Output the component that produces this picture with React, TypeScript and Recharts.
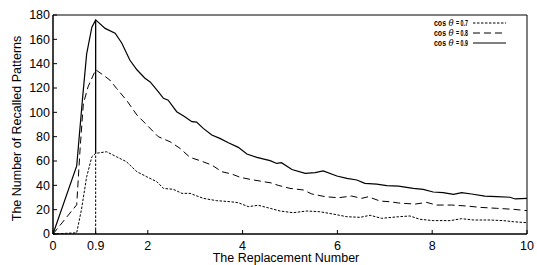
import { LineChart, Line, XAxis, YAxis, ReferenceLine, ReferenceArea } from "recharts";

// cos θ = 0.9 (solid)
const cos09X = [0, 0.5, 0.62, 0.71, 0.82, 0.9, 1.1, 1.31, 1.45, 1.62, 1.77, 1.94, 2.05, 2.22, 2.33, 2.43, 2.61, 2.78, 2.93, 3.03, 3.17, 3.35, 3.52, 3.7, 3.91, 4.09, 4.3, 4.58, 4.72, 4.82, 5.04, 5.32, 5.53, 5.7, 5.99, 6.2, 6.41, 6.58, 6.83, 7.04, 7.29, 7.6, 7.81, 8.02, 8.23, 8.45, 8.62, 8.83, 9.11, 9.36, 9.64, 9.75, 10];
const cos09Y = [0, 56, 110, 148, 170, 176, 169, 165, 157, 143, 135, 128, 125, 117, 111.5, 110, 100.5, 96.4, 92.3, 92, 86.8, 81.3, 78.6, 75, 71.2, 65.7, 63, 60.3, 58, 58.6, 53, 49.9, 50.4, 51.8, 47.7, 45.7, 44.4, 41.6, 41, 39.7, 39.4, 37.5, 36.7, 34.5, 34, 32.6, 34, 32.9, 31.2, 30.7, 30.2, 28.8, 29.3];

// cos θ = 0.8 (dashed)
const cos08X = [0, 0.5, 0.57, 0.64, 0.74, 0.9, 1.06, 1.2, 1.34, 1.55, 1.77, 1.98, 2.12, 2.22, 2.47, 2.68, 2.89, 3.1, 3.35, 3.56, 3.77, 3.95, 4.16, 4.44, 4.6, 4.75, 5.0, 5.28, 5.46, 5.74, 6.02, 6.3, 6.51, 6.65, 6.9, 7.11, 7.29, 7.39, 7.64, 7.88, 8.09, 8.41, 8.73, 9.01, 9.36, 9.71, 10];
const cos08Y = [0, 24, 69, 107, 121, 135, 130.6, 126.5, 119.7, 110, 97.8, 89.6, 84, 80, 75.8, 70.4, 63, 60.3, 56.7, 51.2, 49.3, 46.6, 44.9, 43, 42, 40, 37.5, 36.2, 32.9, 30.7, 29.8, 31.2, 29.3, 30.6, 27.1, 26.5, 25.5, 25.2, 24.6, 26, 23.8, 23.8, 23, 21.9, 21.1, 20.3, 19.2];

// cos θ = 0.7 (dotted)
const cos07X = [0, 0.5, 0.6, 0.71, 0.82, 0.9, 1.13, 1.34, 1.55, 1.77, 1.98, 2.19, 2.33, 2.54, 2.72, 2.89, 3.17, 3.45, 3.73, 3.91, 4.12, 4.33, 4.58, 4.79, 5.07, 5.35, 5.63, 5.91, 6.2, 6.48, 6.69, 6.93, 7.29, 7.53, 7.74, 8.02, 8.38, 8.62, 8.87, 9.22, 9.5, 9.71, 10];
const cos07Y = [0, 1, 20, 47, 63.5, 66.3, 67.6, 63.5, 59.4, 51.2, 47, 43, 37.5, 36.7, 33.4, 33.4, 29.3, 27.4, 26.6, 25.7, 22.5, 23.6, 21.1, 18.9, 17.5, 18.9, 18.3, 16.4, 14.2, 13.7, 15.4, 12.9, 14.2, 14.8, 12.1, 11, 11, 12.6, 11.5, 11.5, 11, 10.1, 9.3];

const xTicks = [0, 0.9, 2, 4, 6, 8, 10];
const yTicks = [0, 20, 40, 60, 80, 100, 120, 140, 160, 180];

// marker at 0.9: solid from the 0.7 peak to the 0.9 peak, dotted down to the axis
const markerX = 0.9;
const markerLow = 66;
const markerHigh = 176;

const legendLabels = ["0.7", "0.8", "0.9"];
const legendDash = ["2.5 1.5", "7 4", undefined];

const FONT = "'Liberation Sans', Arial, Helvetica, sans-serif";

const zip = (xs: number[], ys: number[]) => xs.map((x, i) => ({ x, y: ys[i] }));

function Legend() {
  const txt = { fontFamily: FONT, fontSize: 8.5, fontWeight: "bold" as const, fill: "#000" };
  return (
    <svg width={537} height={265} style={{ position: "absolute", left: 0, top: 0, pointerEvents: "none" }}>
      {legendLabels.map((lab, i) => {
        const by = 26 + i * 10;
        return (
          <g key={lab}>
            <text transform={`translate(434 ${by}) scale(0.82 1)`} {...txt}>cos</text>
            <text x={448.5} y={by} fontFamily="'DejaVu Serif', serif" fontStyle="italic" fontSize={8.5} fill="#000">θ</text>
            <text transform={`translate(456 ${by}) scale(0.62 1)`} {...txt}>{`= ${lab}`}</text>
            <line x1={473} x2={506} y1={by - 3} y2={by - 3} stroke="#000" strokeWidth={1} strokeDasharray={legendDash[i]} />
          </g>
        );
      })}
    </svg>
  );
}

export default function App() {
  const tickStyle = { fontSize: 12.5, fontFamily: FONT, fill: "#000" };
  return (
    <div style={{ position: "absolute", left: 0, top: 0, width: 537, height: 265, background: "#fff" }}>
      <LineChart width={537} height={265} margin={{ top: 15, right: 10, bottom: 11, left: 13 }}>
        <XAxis
          xAxisId="b"
          dataKey="x"
          type="number"
          domain={[0, 10]}
          ticks={xTicks}
          allowDuplicatedCategory={false}
          height={20}
          tickSize={-4}
          tickMargin={11}
          tick={tickStyle}
          tickFormatter={(v: number) => String(v)}
          stroke="#000"
          interval={0}
          label={{ value: "The Replacement Number", position: "bottom", offset: -1, dx: -4, style: { fontSize: 12.5, fontFamily: FONT, fill: "#000" } }}
        />
        <XAxis xAxisId="t" orientation="top" dataKey="x" type="number" domain={[0, 10]} ticks={xTicks} height={0} tick={false} tickLine={false} stroke="#000" />
        <YAxis
          yAxisId="l"
          type="number"
          domain={[0, 180]}
          ticks={yTicks}
          width={40}
          tickSize={-4}
          tickMargin={7}
          tick={tickStyle}
          stroke="#000"
          interval={0}
          label={{ value: "The Number of Recalled Patterns", angle: -90, position: "center", dx: -16, dy: 4, style: { fontSize: 12.5, fontFamily: FONT, fill: "#000" } }}
        />
        <YAxis yAxisId="r" orientation="right" type="number" domain={[0, 180]} ticks={yTicks} width={0} tickSize={-4} tick={false} stroke="#000" interval={0} />
        <ReferenceArea xAxisId="b" yAxisId="l" x1={0} x2={10} y1={0} y2={180} fill="none" stroke="#000" strokeWidth={1} ifOverflow="visible" />
        <ReferenceLine xAxisId="b" yAxisId="l" segment={[{ x: markerX, y: 0 }, { x: markerX, y: markerLow }]} stroke="#000" strokeDasharray="2.5 1.5" ifOverflow="visible" />
        <ReferenceLine xAxisId="b" yAxisId="l" segment={[{ x: markerX, y: markerLow }, { x: markerX, y: markerHigh }]} stroke="#000" strokeWidth={1.3} ifOverflow="visible" />
        <Line xAxisId="b" yAxisId="l" data={zip(cos07X, cos07Y)} dataKey="y" type="linear" stroke="#000" strokeWidth={1} strokeDasharray="2.5 1.5" dot={false} isAnimationActive={false} />
        <Line xAxisId="b" yAxisId="l" data={zip(cos08X, cos08Y)} dataKey="y" type="linear" stroke="#000" strokeWidth={1} strokeDasharray="7 4" dot={false} isAnimationActive={false} />
        <Line xAxisId="b" yAxisId="l" data={zip(cos09X, cos09Y)} dataKey="y" type="linear" stroke="#000" strokeWidth={1.2} dot={false} isAnimationActive={false} />
      </LineChart>
      <Legend />
    </div>
  );
}
